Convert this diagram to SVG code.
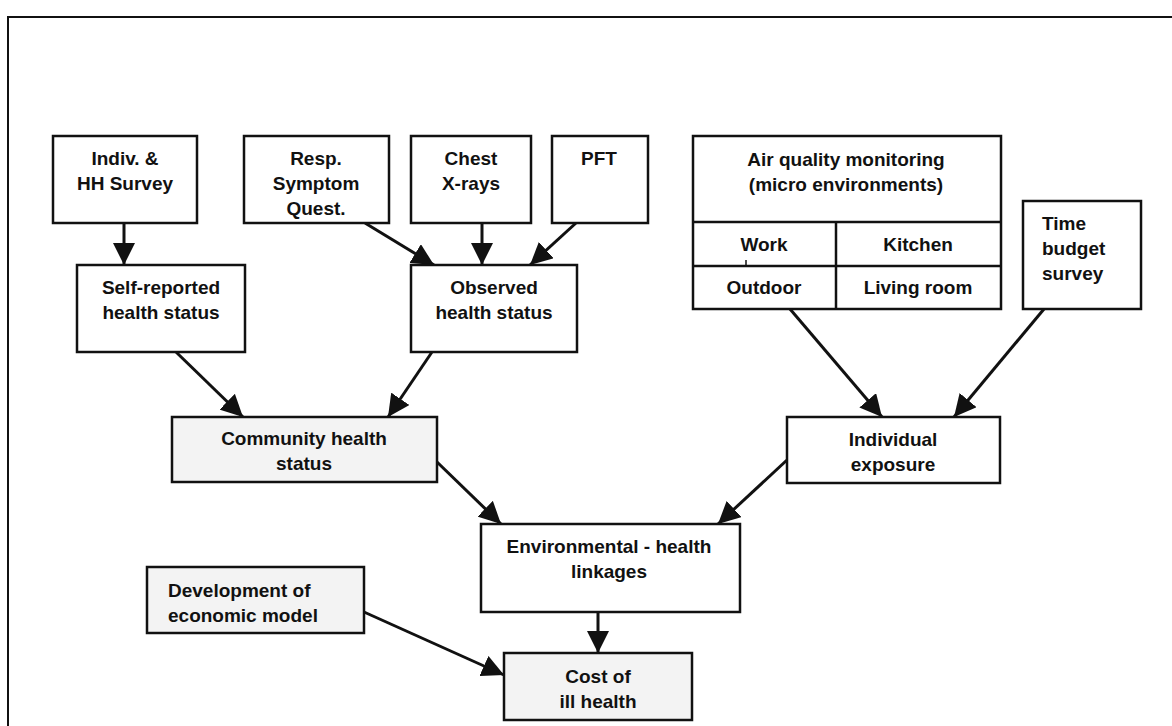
<svg xmlns="http://www.w3.org/2000/svg" width="1172" height="726" viewBox="0 0 1172 726">
<defs>
<style>
.box{fill:#ffffff;stroke:#111;stroke-width:2.5}
.shade{fill:#f3f3f3;stroke:#111;stroke-width:2.5}
.div{stroke:#111;stroke-width:2.5;fill:none}
.t{font-family:"Liberation Sans",Arial,sans-serif;font-weight:bold;font-size:19px;fill:#111;text-anchor:middle}
.tl{font-family:"Liberation Sans",Arial,sans-serif;font-weight:bold;font-size:19px;fill:#111;text-anchor:start}
.c{stroke:#111;stroke-width:3;fill:none;marker-end:url(#ah)}
</style>
<marker id="ah" markerUnits="userSpaceOnUse" markerWidth="22" markerHeight="22" viewBox="0 0 20 20" refX="20" refY="10" orient="auto">
<path d="M0,0 L20,10 L0,20 z" fill="#111"/>
</marker>
</defs>
<rect width="1172" height="726" fill="#ffffff"/>
<path d="M8,726 V17 H1172" fill="none" stroke="#111" stroke-width="2"/>

<g id="connectors">
<line class="c" x1="124" y1="223" x2="124" y2="265"/>
<line class="c" x1="365" y1="223" x2="434" y2="265"/>
<line class="c" x1="482" y1="223" x2="482" y2="265"/>
<line class="c" x1="576" y1="223" x2="530" y2="265"/>
<line class="c" x1="176" y1="352" x2="243" y2="417"/>
<line class="c" x1="432" y1="352" x2="388" y2="417"/>
<line class="c" x1="790" y1="309" x2="882" y2="417"/>
<line class="c" x1="1044" y1="309" x2="954" y2="417"/>
<line class="c" x1="437" y1="462" x2="501" y2="524"/>
<line class="c" x1="787" y1="460" x2="718" y2="524"/>
<line class="c" x1="598" y1="612" x2="598" y2="653"/>
<line class="c" x1="364" y1="612" x2="504" y2="675"/>
</g>

<g id="indiv-survey">
<rect class="box" x="53" y="136" width="144" height="87"/>
<text class="t" x="125" y="165">Indiv. &amp;</text>
<text class="t" x="125" y="190">HH Survey</text>
</g>
<g id="resp-symptom">
<rect class="box" x="244" y="136" width="145" height="87"/>
<text class="t" x="316" y="165">Resp.</text>
<text class="t" x="316" y="190">Symptom</text>
<text class="t" x="316" y="215">Quest.</text>
</g>
<g id="chest-xrays">
<rect class="box" x="411" y="136" width="120" height="87"/>
<text class="t" x="471" y="165">Chest</text>
<text class="t" x="471" y="190">X-rays</text>
</g>
<g id="pft">
<rect class="box" x="552" y="136" width="96" height="87"/>
<text class="t" x="599" y="165">PFT</text>
</g>
<g id="air-quality">
<rect class="box" x="693" y="136" width="308" height="173"/>
<line class="div" x1="693" y1="222" x2="1001" y2="222"/>
<line class="div" x1="693" y1="266" x2="1001" y2="266"/>
<line class="div" x1="836" y1="222" x2="836" y2="309"/>
<line x1="746" y1="260" x2="746" y2="266" stroke="#111" stroke-width="1.5"/>
<text class="t" x="846" y="166">Air quality monitoring</text>
<text class="t" x="846" y="191">(micro environments)</text>
<text class="t" x="764" y="251">Work</text>
<text class="t" x="918" y="251">Kitchen</text>
<text class="t" x="764" y="294">Outdoor</text>
<text class="t" x="918" y="294">Living room</text>
</g>
<g id="time-budget">
<rect class="box" x="1023" y="201" width="118" height="108"/>
<text class="tl" x="1042" y="230">Time</text>
<text class="tl" x="1042" y="255">budget</text>
<text class="tl" x="1042" y="280">survey</text>
</g>
<g id="self-reported">
<rect class="box" x="77" y="265" width="168" height="87"/>
<text class="t" x="161" y="294">Self-reported</text>
<text class="t" x="161" y="319">health status</text>
</g>
<g id="observed">
<rect class="box" x="411" y="265" width="166" height="87"/>
<text class="t" x="494" y="294">Observed</text>
<text class="t" x="494" y="319">health status</text>
</g>
<g id="community">
<rect class="shade" x="172" y="417" width="265" height="65"/>
<text class="t" x="304" y="445">Community health</text>
<text class="t" x="304" y="470">status</text>
</g>
<g id="individual-exposure">
<rect class="box" x="787" y="417" width="213" height="66"/>
<text class="t" x="893" y="446">Individual</text>
<text class="t" x="893" y="471">exposure</text>
</g>
<g id="env-health">
<rect class="box" x="481" y="524" width="259" height="88"/>
<text class="t" x="609" y="553">Environmental - health</text>
<text class="t" x="609" y="578">linkages</text>
</g>
<g id="economic-model">
<rect class="shade" x="147" y="567" width="217" height="66"/>
<text class="tl" x="168" y="597">Development of</text>
<text class="tl" x="168" y="622">economic model</text>
</g>
<g id="cost">
<rect class="shade" x="504" y="653" width="188" height="67"/>
<text class="t" x="598" y="683">Cost of</text>
<text class="t" x="598" y="708">ill health</text>
</g>
</svg>
